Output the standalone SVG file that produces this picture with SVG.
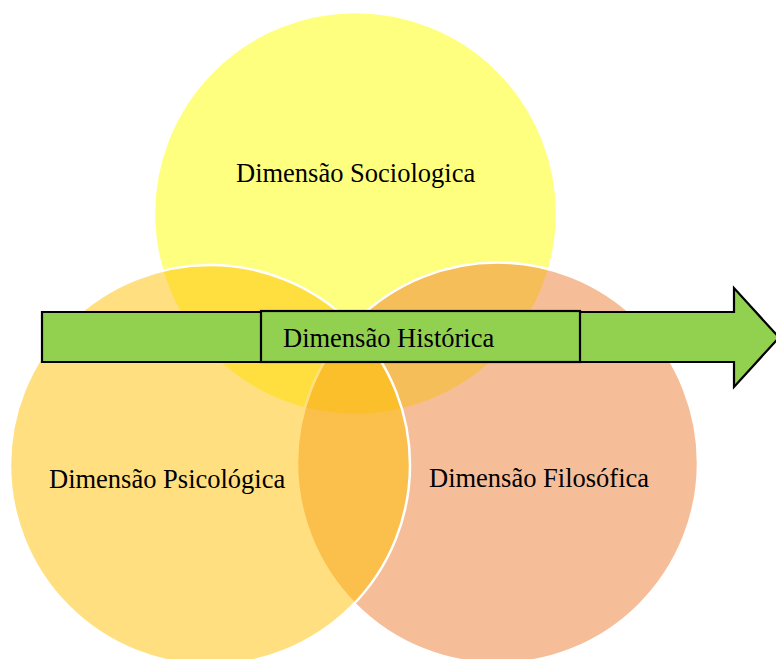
<svg xmlns="http://www.w3.org/2000/svg" width="776" height="659" viewBox="0 0 776 659">
  <style>
    .set { stroke: #FFFFFF; stroke-width: 2.5; fill-opacity: 0.5; }
    .label { font-family: "Liberation Serif", "Times New Roman", serif; font-size: 26.5px; fill: #000000; }
    .bar { fill: #92D050; stroke: #000000; stroke-width: 2.2; stroke-linejoin: miter; }
  </style>
  <rect width="776" height="659" fill="#FFFFFF"/>

  <!-- Venn sets: drawn top, right, left so the later outlines sit on top -->
  <g id="sociologica">
    <circle class="set" cx="355.5" cy="213.5" r="201.5" fill="#FFFF00" stroke="none"/>
    <text class="label" x="236" y="182">Dimensão Sociologica</text>
  </g>
  <g id="filosofica">
    <circle class="set" cx="497.5" cy="463" r="200.5" fill="#ED7D31"/>
    <text class="label" x="429" y="487">Dimensão Filosófica</text>
  </g>
  <g id="psicologica">
    <circle class="set" cx="210" cy="465" r="200" fill="#FFC000"/>
    <text class="label" x="49" y="488">Dimensão Psicológica</text>
  </g>

  <!-- Timeline arrow crossing the sets -->
  <g id="connectors">
    <path class="bar" d="M42,312 H734 V288 L779,337.5 L734,387 V362 H42 Z"/>
  </g>
  <g id="historica">
    <rect class="bar" x="261" y="311" width="319" height="51"/>
    <text class="label" x="283" y="347">Dimensão Histórica</text>
  </g>
</svg>
